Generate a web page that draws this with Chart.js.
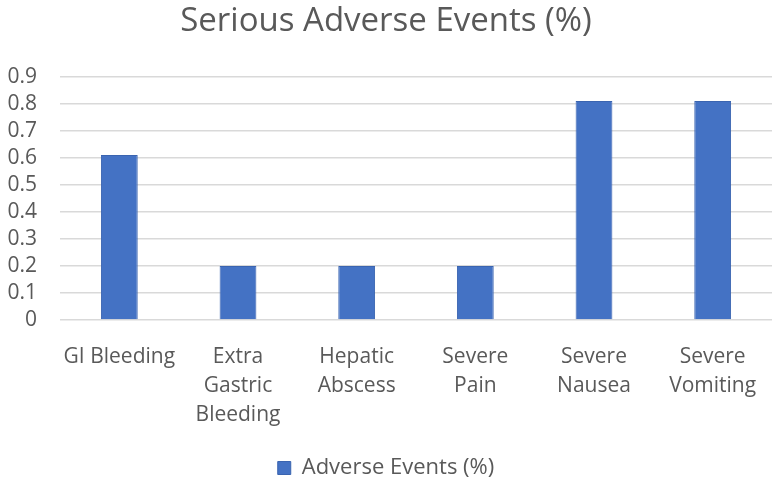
<!DOCTYPE html>
<html>
<head>
<meta charset="utf-8">
<script src="https://cdn.jsdelivr.net/npm/chart.js@4"></script>
<style>
  html, body { margin: 0; padding: 0; background: #fff; }
  #wrap { width: 777px; height: 486px; }
</style>
</head>
<body>
<div id="wrap"><canvas id="chart" width="777" height="486"></canvas></div>
<script>
// Serious adverse events chart
const categories = ['GI Bleeding', ['Extra', 'Gastric', 'Bleeding'], ['Hepatic', 'Abscess'], ['Severe', 'Pain'], ['Severe', 'Nausea'], ['Severe', 'Vomiting']];
const eventValues = [0.61, 0.2, 0.2, 0.2, 0.81, 0.81];
const yTicks = [0, 0.1, 0.2, 0.3, 0.4, 0.5, 0.6, 0.7, 0.8, 0.9];

const FONT = 'Open Sans';
const GREY = '#595959';

new Chart(document.getElementById('chart'), {
  type: 'bar',
  data: {
    labels: categories,
    datasets: [{
      label: 'Adverse Events (%)',
      data: eventValues,
      backgroundColor: '#4472C4',
      borderColor: '#3a64b0',
      borderWidth: 1,
      barPercentage: 0.31,
      categoryPercentage: 1,
    }]
  },
  options: {
    responsive: false, animation: false,
    layout: { padding: { left: 0, right: 5, top: 2, bottom: -3 } },
    scales: {
      x: {
        afterFit: axis => { axis.height = 130; },
        grid: { display: false },
        border: { display: false },
        ticks: { color: GREY, font: { family: FONT, size: 21, lineHeight: 1.38 }, maxRotation: 0, autoSkip: false, padding: 15 },
      },
      y: {
        min: 0, max: 0.9,
        afterFit: axis => { axis.width = 60; },
        afterBuildTicks: axis => { axis.ticks = yTicks.map(v => ({ value: v })); },
        grid: { color: '#d9d9d9', lineWidth: 1.5, drawTicks: false },
        border: { display: false },
        ticks: { color: GREY, font: { family: FONT, size: 21 }, padding: 23, autoSkip: false, callback: v => String(v) },
      }
    },
    plugins: {
      title: {
        display: true, text: 'Serious Adverse Events (%)',
        color: GREY, font: { family: FONT, size: 33, weight: 'normal' },
        padding: { top: 0, bottom: 35 }
      },
      legend: {
        position: 'bottom',
        labels: { color: GREY, font: { family: FONT, size: 22 }, boxWidth: 13, boxHeight: 13, padding: 7 }
      },
      tooltip: { enabled: false }
    }
  }
});
</script>
</body>
</html>
